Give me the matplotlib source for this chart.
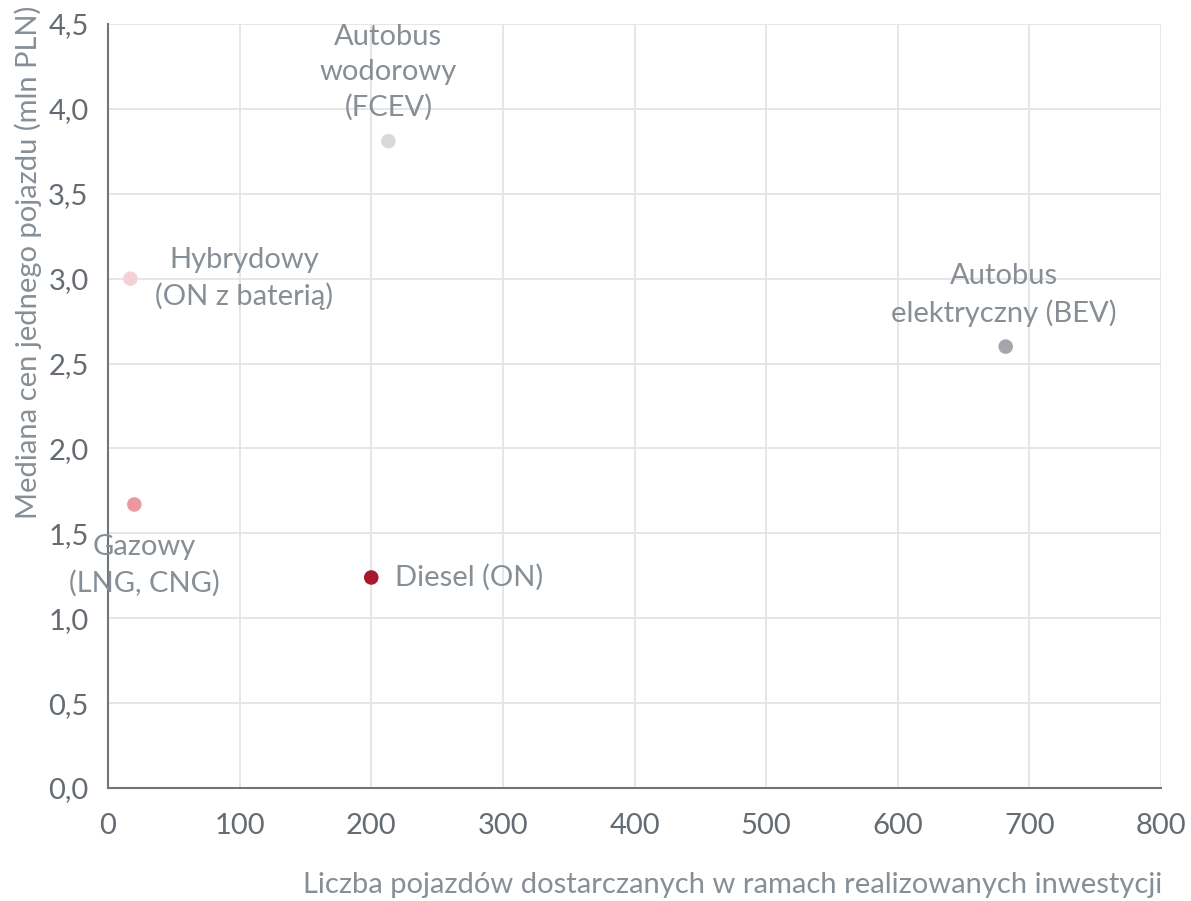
import matplotlib
matplotlib.use("Agg")
import matplotlib.pyplot as plt
from matplotlib.ticker import FuncFormatter, MultipleLocator

# Vehicle types: number delivered vs. median unit price
labels = ["Autobus\nwodorowy\n(FCEV)", "Hybrydowy\n(ON z baterią)",
          "Autobus\nelektryczny (BEV)", "Gazowy\n(LNG, CNG)", "Diesel (ON)"]
counts = [213, 17, 682, 20, 200]
prices = [3.81, 3.00, 2.60, 1.67, 1.24]
colors = ["#d9d9d9", "#f5d0d5", "#a3a7ac", "#ec98a2", "#a6192e"]

plt.rcParams["font.family"] = ["Lato", "DejaVu Sans"]
TXT = "#868e96"
TICK = "#646b72"
FS = 21

fig = plt.figure(figsize=(11.91, 9.01), dpi=100)
ax = fig.add_axes([108 / 1191, 1 - 788 / 901, (1161 - 108) / 1191, (788 - 24) / 901])

ax.set_xlim(0, 800)
ax.set_ylim(0, 4.5)
ax.xaxis.set_major_locator(MultipleLocator(100))
ax.yaxis.set_major_locator(MultipleLocator(0.5))
ax.yaxis.set_major_formatter(FuncFormatter(lambda v, p: f"{v:.1f}".replace(".", ",")))
ax.grid(True, color="#e4e4e4", linewidth=1.3)
ax.set_axisbelow(True)
for s in ("top", "right"):
    ax.spines[s].set_visible(False)
for s in ("left", "bottom"):
    ax.spines[s].set_color("#70757a")
    ax.spines[s].set_linewidth(1.5)
ax.tick_params(length=0, labelsize=FS, colors=TICK, pad=14)
ax.tick_params(axis="x", pad=18)

ax.scatter(counts, prices, s=110, c=colors, zorder=3, linewidths=0)

# label placement: (dx, dy) in pixels, alignment
offsets = [(0, 20, "center", "bottom", "center"),
           (114, 0, "center", "center", "center"),
           (-2, 20, "center", "bottom", "center"),
           (10, -30, "center", "top", "center"),
           (24, 0, "left", "center", "left")]
for lab, x, y, (dx, dy, ha, va, ma) in zip(labels, counts, prices, offsets):
    ax.annotate(lab, (x, y), xytext=(dx, dy), textcoords="offset pixels",
                ha=ha, va=va, multialignment=ma, fontsize=FS, color=TXT,
                linespacing=1.42, zorder=4)

fig.text(733 / 1191, 1 - 885 / 901, "Liczba pojazdów dostarczanych w ramach realizowanych inwestycji",
         ha="center", va="center", fontsize=FS, color=TXT)
fig.text(28 / 1191, 1 - 262 / 901, "Mediana cen jednego pojazdu (mln PLN)",
         ha="center", va="center", rotation=90, fontsize=FS, color=TXT)

fig.savefig("out.png", dpi=100)
